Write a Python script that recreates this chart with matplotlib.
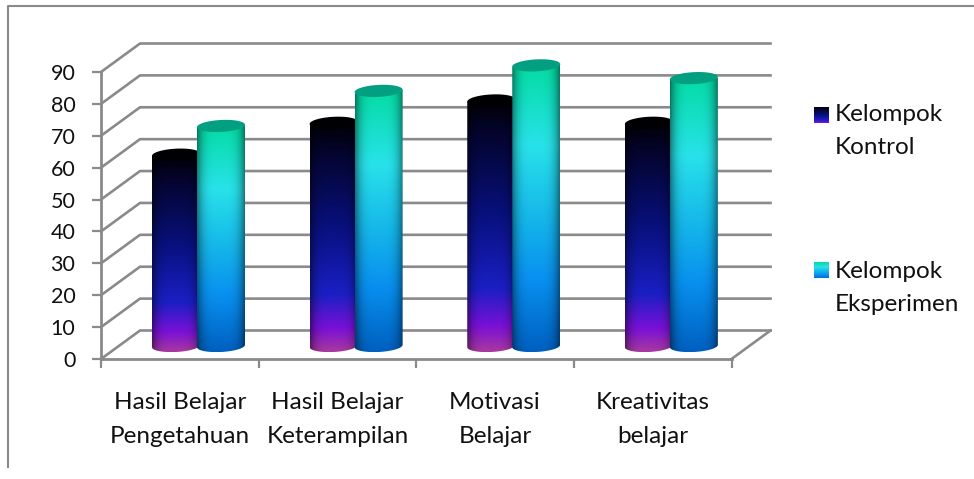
import numpy as np
from matplotlib import pyplot as plt
from matplotlib.colors import LinearSegmentedColormap
from matplotlib.patches import PathPatch
from matplotlib.path import Path

plt.rcParams['font.family'] = ['Lato', 'DejaVu Sans']

categories = ['Hasil Belajar\nPengetahuan', 'Hasil Belajar\nKeterampilan', 'Motivasi\nBelajar', 'Kreativitas\nbelajar']
kontrol = [60, 70, 77, 70]
eksperimen = [69, 80, 88, 84]
y_ticks = list(range(0, 100, 10))
legend_labels = ['Kelompok\nKontrol', 'Kelompok\nEksperimen']

GREY = '#8a8a8a'
TEXT = '#111111'
FS = 15.5
FS_LABEL = 17.5
W, H = 974, 479

# front plane of the chart in pixels
x0, x1, y0, y1 = 101, 731.5, 359, 72
cat_w = (x1 - x0) / 4
unit = (y0 - y1) / 90
depth_x = 39 / cat_w
depth_y = 28.5 / unit

cmap_k = LinearSegmentedColormap.from_list('k', [(0, '#000004'), (0.12, '#04042c'), (0.45, '#08107c'),
                                                 (0.75, '#1a1fc4'), (0.9, '#7a10d8'), (1, '#a838a0')])
cmap_e = LinearSegmentedColormap.from_list('e', [(0, '#04dca4'), (0.28, '#28e2ea'), (0.55, '#14b4ea'),
                                                 (0.75, '#0890f0'), (1, '#0060c0')])


def shaded(cmap):
    v = cmap(np.linspace(0, 1, 200))[:, :3]
    u = np.linspace(-1, 1, 60)
    shade = 1 - 0.45 * np.abs(u) ** 4
    return v[:, None, :] * shade[None, :, None]


fig = plt.figure(figsize=(W / 100, H / 100), dpi=100)

# overlay in pixels for border and legend
over = fig.add_axes([0, 0, 1, 1], zorder=0)
over.set_xlim(0, W)
over.set_ylim(H, 0)
over.axis('off')
over.plot([8, 8, W - 1], [H - 12, 6, 6], color=GREY, lw=1.5)

ax = fig.add_axes([x0 / W, 1 - y0 / H, (x1 - x0) / W, (y0 - y1) / H], zorder=1)
ax.patch.set_alpha(0)
ax.set_xlim(0, 4)
ax.set_ylim(0, 90)
for s in ['top', 'right']:
    ax.spines[s].set_visible(False)
for s in ['left', 'bottom']:
    ax.spines[s].set_color(GREY)
    ax.spines[s].set_linewidth(2.0)
ax.set_yticks(y_ticks)
ax.set_xticks(range(5))
ax.set_xticklabels([])
ax.tick_params(axis='both', color=GREY, width=1.6, length=6.5, labelsize=FS, labelcolor=TEXT)
ax.tick_params(axis='y', pad=12)

# walls
for v in y_ticks:
    ax.plot([0, depth_x, 4 + depth_x], [v, v + depth_y, v + depth_y], color=GREY, lw=1.9, clip_on=False, zorder=1)
ax.plot([4, 4 + depth_x], [0, depth_y], color=GREY, lw=1.9, clip_on=False, zorder=1)

# category labels
for i, c in enumerate(categories):
    ax.annotate(c, (i + 0.5, 0), xytext=(0, -24), textcoords='offset points', ha='center', va='top',
                fontsize=FS_LABEL, color=TEXT, linespacing=1.72, annotation_clip=False)

bar_w = 48 / cat_w
base_y = 13 / unit
ell_h = 12 / unit


def cylinder(xc, value, cmap, top_color, z):
    left, right = xc - bar_w / 2, xc + bar_w / 2
    top = base_y + value
    theta = np.linspace(0, np.pi, 40)
    xs = xc + bar_w / 2 * np.cos(theta)
    # outline: tilted ellipse arcs at the bottom and top
    tilt = 1.2 / unit
    bottom = base_y - ell_h / 2 * np.sin(theta) + tilt * np.cos(theta)
    upper = top + tilt * np.cos(theta)
    verts = list(zip(xs[::-1], bottom[::-1])) + list(zip(xs, upper))
    path = Path(verts + [verts[0]], closed=True)
    im = ax.imshow(shaded(cmap), extent=[left, right, base_y - ell_h / 2, top], aspect='auto',
                   zorder=z, interpolation='bilinear')
    im.set_clip_box(fig.bbox)
    im.set_clip_path(PathPatch(path, transform=ax.transData))
    # top cap
    t2 = np.linspace(0, 2 * np.pi, 80)
    cx = xc + bar_w / 2 * np.cos(t2)
    cy = top + ell_h / 2 * np.sin(t2) + tilt * np.cos(t2)
    ax.fill(cx, cy, color=top_color, zorder=z + 0.1, clip_on=False, lw=0)


for i in range(len(categories)):
    start = i + (152 - x0) / cat_w
    cylinder(start + bar_w / 2, kontrol[i], cmap_k, '#000002', 3 + i)
    cylinder(start + bar_w / 2 + 45 / cat_w, eksperimen[i], cmap_e, '#02a080', 3.5 + i)
ax.set_xlim(0, 4)
ax.set_ylim(0, 90)

# legend
grad = np.linspace(0, 0.92, 50)
swatches = [(814, 107, cmap_k), (814, 263, cmap_e)]
text_y = [104, 261]
for (sx, sy, cm), ty, lab in zip(swatches, text_y, legend_labels):
    over.imshow(cm(grad)[:, None, :3], extent=[sx, sx + 15, sy + 15.5, sy], aspect='auto', zorder=2)
    over.text(835, ty, lab, fontsize=FS_LABEL, color=TEXT, va='top', ha='left', linespacing=1.72)
over.set_xlim(0, W)
over.set_ylim(H, 0)

fig.savefig('out.png', dpi=100)
